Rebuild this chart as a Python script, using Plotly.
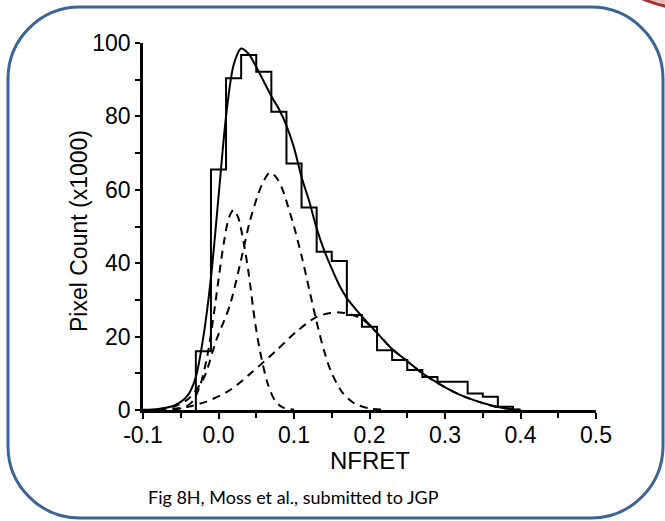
import plotly.graph_objects as go

# ---------------- data ----------------
bin_edges = [-0.03, -0.01, 0.01, 0.03, 0.05, 0.07, 0.09, 0.11, 0.13, 0.15, 0.17,
             0.19, 0.21, 0.23, 0.25, 0.27, 0.29, 0.31, 0.33, 0.35, 0.37, 0.39]
bin_counts = [16, 65.5, 90.4, 96.7, 92.2, 81.3, 67.2, 55.2, 43.1, 40.6, 25.9,
              22.7, 16.3, 13.6, 10.9, 9.0, 7.7, 7.7, 4.5, 3.6, 0.9]

fit_x = [-0.10, -0.08, -0.06, -0.05, -0.04, -0.03, -0.02, -0.01, 0.0, 0.01, 0.02, 0.03,
         0.04, 0.05, 0.06, 0.07, 0.08, 0.09, 0.10, 0.11, 0.12, 0.13, 0.14, 0.15, 0.16,
         0.17, 0.19, 0.21, 0.23, 0.25, 0.27, 0.29, 0.31, 0.33, 0.35, 0.37, 0.39, 0.40]
fit_y = [0.05, 0.3, 1.1, 2.2, 4.2, 9.0, 20, 36, 58, 80, 94, 98.5,
         97, 93.5, 89.5, 85.5, 82, 77.5, 71.5, 63.5, 57, 49.5, 43.5, 38.5, 34,
         30.5, 25.5, 21, 16.6, 13.3, 10, 7.4, 5.1, 3.3, 1.9, 0.8, 0.2, 0.05]

g1_x = [-0.06, -0.045, -0.035, -0.025, -0.015, -0.008, 0.0, 0.007, 0.014, 0.020, 0.026,
        0.033, 0.040, 0.048, 0.055, 0.065, 0.075, 0.085, 0.10]
g1_y = [0.1, 0.7, 2.2, 6.3, 14.5, 23.5, 35.5, 45.5, 52.5, 54.5, 52.5,
        46, 37.2, 24.5, 16, 7.3, 2.5, 0.7, 0.05]

g2_x = [-0.08, -0.06, -0.04, -0.02, -0.003, 0.015, 0.03, 0.041, 0.052, 0.06, 0.068, 0.076,
        0.085, 0.092, 0.10, 0.11, 0.12, 0.13, 0.14, 0.15, 0.165, 0.18, 0.20, 0.22]
g2_y = [0.2, 0.9, 3, 8.5, 19, 28.5, 41, 51, 58.5, 62.5, 64.7, 63.5,
        60, 55.5, 50, 42, 33, 24, 16, 10, 4.5, 1.8, 0.4, 0.1]

g3_x = [-0.08, -0.06, -0.04, -0.016, 0.015, 0.045, 0.077, 0.103, 0.13, 0.148, 0.16, 0.17,
        0.19, 0.21, 0.23, 0.25, 0.27, 0.29, 0.31, 0.33, 0.35, 0.37, 0.39, 0.40]
g3_y = [0.1, 0.3, 0.9, 2.3, 5.4, 10.4, 16.3, 21.3, 25.4, 26.4, 26.6, 26.3,
        24.8, 21, 16.6, 13.3, 10, 7.4, 5.1, 3.3, 1.9, 0.8, 0.2, 0.05]

x_tickvals = [-0.1, 0.0, 0.1, 0.2, 0.3, 0.4, 0.5]
x_ticktext = ["-0.1", "0.0", "0.1", "0.2", "0.3", "0.4", "0.5"]
y_tickvals = [0, 20, 40, 60, 80, 100]

x_title = "NFRET"
y_title = "Pixel Count (x1000)"
caption = "Fig 8H, Moss et al., submitted to JGP"

# ---------------- layout geometry ----------------
FW, FH = 665, 521
L, R, T, B = 143, 596, 43, 410
PW, PH = R - L, B - T


def px(x):
    return (x - L) / PW


def py(y):
    return (B - y) / PH


fig = go.Figure()

# histogram outline (step)
hx = [bin_edges[0]] + bin_edges
hy = [0] + bin_counts + [0]
fig.add_trace(go.Scatter(x=hx, y=hy, mode="lines", line=dict(color="black", width=2, shape="hv"),
                         hoverinfo="skip", showlegend=False))

for gx, gy in ((g1_x, g1_y), (g2_x, g2_y), (g3_x, g3_y)):
    fig.add_trace(go.Scatter(x=gx, y=gy, mode="lines",
                             line=dict(color="black", width=2, dash="8px,6px", shape="spline", smoothing=0.8),
                             showlegend=False, hoverinfo="skip"))

fig.add_trace(go.Scatter(x=fit_x, y=fit_y, mode="lines",
                         line=dict(color="black", width=2, shape="spline", smoothing=0.8),
                         showlegend=False, hoverinfo="skip"))

# rounded border
x0, x1, y0, y1, r = 8, 663, 7, 518, 72
k = 0.5523 * r


def P(x, y):
    return f"{px(x):.5f},{py(y):.5f}"


path = (f"M {P(x0 + r, y0)} L {P(x1 - r, y0)} "
        f"C {P(x1 - r + k, y0)} {P(x1, y0 + r - k)} {P(x1, y0 + r)} "
        f"L {P(x1, y1 - r)} "
        f"C {P(x1, y1 - r + k)} {P(x1 - r + k, y1)} {P(x1 - r, y1)} "
        f"L {P(x0 + r, y1)} "
        f"C {P(x0 + r - k, y1)} {P(x0, y1 - r + k)} {P(x0, y1 - r)} "
        f"L {P(x0, y0 + r)} "
        f"C {P(x0, y0 + r - k)} {P(x0 + r - k, y0)} {P(x0 + r, y0)} Z")

shapes = [
    dict(type="path", xref="paper", yref="paper", path=path,
         line=dict(color="#3c6595", width=3), layer="below"),
    dict(type="circle", xref="paper", yref="paper",
         x0=px(684.5 - 100), x1=px(684.5 + 100), y0=py(-92 + 100), y1=py(-92 - 100),
         line=dict(color="#9e3535", width=3), fillcolor="#efbcbc", layer="below"),
]

fig.update_layout(
    width=FW, height=FH,
    margin=dict(l=L, r=FW - R, t=T, b=FH - B, autoexpand=False),
    paper_bgcolor="white", plot_bgcolor="white",
    font=dict(family="Liberation Sans, Arial, sans-serif", color="black"),
    shapes=shapes,
    annotations=[
        dict(text=caption, xref="paper", yref="paper", x=px(293), y=py(497),
             xanchor="center", yanchor="middle", showarrow=False,
             font=dict(family="Lato, Carlito, sans-serif", size=18, color="black")),
        dict(text=y_title, xref="paper", yref="paper", x=px(79), y=py(231),
             xanchor="center", yanchor="middle", showarrow=False, textangle=-90,
             font=dict(size=23, color="black")),
        dict(text=x_title, xref="paper", yref="paper", x=px(370), y=py(460),
             xanchor="center", yanchor="middle", showarrow=False,
             font=dict(size=24, color="black")),
    ],
    xaxis=dict(range=[-0.1, 0.5], tickvals=x_tickvals, ticktext=x_ticktext,
               showgrid=False, zeroline=False, showline=True, linecolor="black", linewidth=2.5,
               ticks="outside", ticklen=6, tickwidth=2, tickcolor="black",
               minor=dict(dtick=0.05, tick0=0, ticks="outside", ticklen=5, tickwidth=2, tickcolor="black"),
               tickfont=dict(size=23), ticklabelstandoff=-3),
    yaxis=dict(range=[0, 100], tickvals=y_tickvals,
               showgrid=False, zeroline=False, showline=True, linecolor="black", linewidth=2.5,
               ticks="outside", ticklen=5, tickwidth=2, tickcolor="black",
               minor=dict(dtick=10, tick0=0, ticks="outside", ticklen=5, tickwidth=2, tickcolor="black"),
               tickfont=dict(size=23)),
)

fig.write_html("out.html")
